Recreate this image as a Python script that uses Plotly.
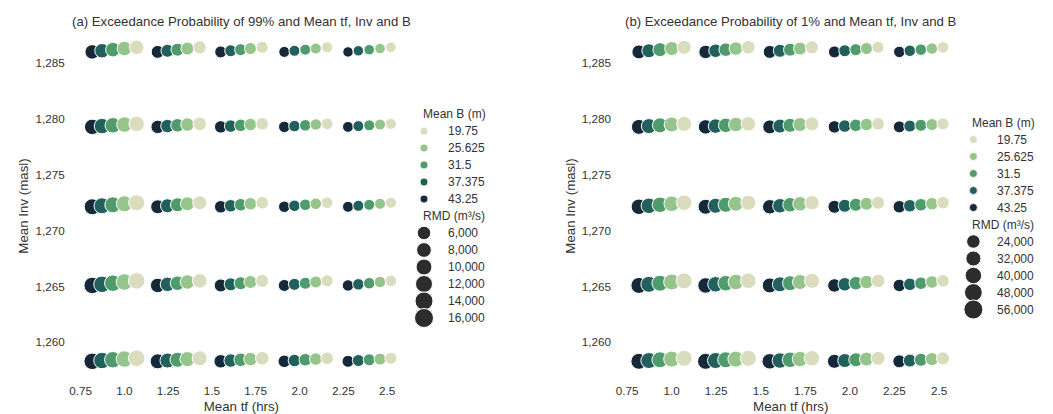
import plotly.graph_objects as go

# Mean breach width classes (m), in drawing order: dark (wide) to light (narrow)
B_LEVELS = [43.25, 37.375, 31.5, 25.625, 19.75]
B_COLORS = ["#15293b", "#22615b", "#4f9b6c", "#95c58a", "#d9dcbd"]

# Mean time to failure (hrs): one row per tf class, one column per B class
TF = [
    [0.816, 0.872, 0.934, 1.000, 1.070],
    [1.190, 1.246, 1.303, 1.360, 1.430],
    [1.550, 1.607, 1.664, 1.720, 1.787],
    [1.913, 1.971, 2.033, 2.093, 2.158],
    [2.277, 2.336, 2.398, 2.460, 2.522],
]

# Mean invert level (masl): one row per Inv class (top to bottom), one column per B class
INV = [
    [1285.99, 1286.09, 1286.19, 1286.29, 1286.40],
    [1279.28, 1279.35, 1279.42, 1279.49, 1279.55],
    [1272.13, 1272.22, 1272.31, 1272.40, 1272.49],
    [1265.09, 1265.19, 1265.29, 1265.40, 1265.50],
    [1258.30, 1258.37, 1258.44, 1258.50, 1258.57],
]

# RMD (m3/s): rows = Inv classes (top to bottom), columns = tf classes
RMD_P99 = [
    [7580, 5240, 3870, 2590, 1960],
    [9260, 6010, 4530, 3210, 2560],
    [10120, 6780, 4560, 3190, 2580],
    [11030, 7560, 5270, 3850, 3210],
    [11050, 8400, 5990, 4540, 3860],
]
RMD_P01 = [
    [26450, 24010, 21640, 17160, 15040],
    [31660, 29020, 26470, 19340, 17150],
    [34370, 31640, 29000, 21620, 19360],
    [37190, 34390, 31660, 23990, 19330],
    [37220, 37180, 34370, 26480, 21610],
]

# Values shown in the size keys
RMD_KEY_P99 = [6000, 8000, 10000, 12000, 14000, 16000]
RMD_KEY_P01 = [24000, 32000, 40000, 48000, 56000]

X_TICKS = [0.75, 1.0, 1.25, 1.5, 1.75, 2.0, 2.25, 2.5]
X_TICK_TEXT = ["0.75", "1.0", "1.25", "1.5", "1.75", "2.0", "2.25", "2.5"]
Y_TICKS = [1260, 1265, 1270, 1275, 1280, 1285]

TITLES = [
    "(a) Exceedance Probability of 99% and Mean tf, Inv and B",
    "(b) Exceedance Probability of 1% and Mean tf, Inv and B",
]

FONT = "Liberation Sans, Arial, sans-serif"
TEXT = "#333333"
W, H = 1053, 414


def size_scale(lo, hi, d_lo=13.5, d_hi=19.0):
    """Area-linear size norm: key value lo -> d_lo px, hi -> d_hi px."""
    def f(v):
        area = d_lo ** 2 + (v - lo) / (hi - lo) * (d_hi ** 2 - d_lo ** 2)
        return max(area, 1.0) ** 0.5
    return f


panels = [
    dict(rmd=RMD_P99, keys=RMD_KEY_P99, xa="x", ya="y",
         dom=[70 / W, 405 / W], key_x=418),
    dict(rmd=RMD_P01, keys=RMD_KEY_P01, xa="x2", ya="y2",
         dom=[619 / W, 960 / W], key_x=970),
]

fig = go.Figure()
annotations = []

for p in panels:
    scale = size_scale(p["keys"][0], p["keys"][-1])
    for j, (b, col) in enumerate(zip(B_LEVELS, B_COLORS)):
        xs, ys, ss, rs = [], [], [], []
        for r in range(len(INV)):
            for g in range(len(TF)):
                xs.append(TF[g][j])
                ys.append(INV[r][j])
                rs.append(p["rmd"][r][g])
                ss.append(scale(p["rmd"][r][g]))
        fig.add_trace(go.Scatter(
            x=xs, y=ys, mode="markers", xaxis=p["xa"], yaxis=p["ya"],
            marker=dict(size=ss, color=col, opacity=1,
                        line=dict(color="white", width=1)),
            customdata=rs, name=str(b), showlegend=False,
            hovertemplate="tf=%{x}<br>Inv=%{y}<br>RMD=%{customdata:,}<extra>B=" + str(b) + "</extra>",
        ))

    # Key: hue entries then size entries, stacked and centred on the axes
    step = 17.0
    rows = 2 + len(B_LEVELS) + len(p["keys"])
    y0 = 216 - (rows - 1) / 2 * step
    kx = p["key_x"]
    mx, tx = kx + 3, kx + 25
    annotations.append(dict(xref="x3", yref="y3", x=kx, y=y0, text="Mean B (m)",
                            xanchor="left", yanchor="middle", showarrow=False,
                            font=dict(size=12, color=TEXT, family=FONT)))
    hue_order = list(reversed(range(len(B_LEVELS))))
    hy = [y0 + step * (i + 1) for i in range(len(B_LEVELS))]
    fig.add_trace(go.Scatter(
        x=[mx] * len(hy), y=hy, mode="markers", xaxis="x3", yaxis="y3",
        marker=dict(size=8, color=[B_COLORS[k] for k in hue_order], opacity=1,
                    line=dict(color="white", width=0.8)),
        showlegend=False, hoverinfo="skip"))
    for i, k in enumerate(hue_order):
        annotations.append(dict(xref="x3", yref="y3", x=tx, y=hy[i],
                                text=f"{B_LEVELS[k]:g}", xanchor="left", yanchor="middle",
                                showarrow=False, font=dict(size=12, color=TEXT, family=FONT)))
    ty = y0 + step * (len(B_LEVELS) + 1)
    annotations.append(dict(xref="x3", yref="y3", x=kx, y=ty, text="RMD (m³/s)",
                            xanchor="left", yanchor="middle", showarrow=False,
                            font=dict(size=12, color=TEXT, family=FONT)))
    sy = [ty + step * (i + 1) for i in range(len(p["keys"]))]
    fig.add_trace(go.Scatter(
        x=[mx] * len(sy), y=sy, mode="markers", xaxis="x3", yaxis="y3",
        marker=dict(size=[scale(v) for v in p["keys"]], color="#2c2c2c", opacity=1,
                    line=dict(color="white", width=1)),
        showlegend=False, hoverinfo="skip"))
    for v, yy in zip(p["keys"], sy):
        annotations.append(dict(xref="x3", yref="y3", x=tx, y=yy, text=f"{v:,}",
                                xanchor="left", yanchor="middle", showarrow=False,
                                font=dict(size=12, color=TEXT, family=FONT)))

for i, t in enumerate(TITLES):
    annotations.append(dict(xref="x domain" if i == 0 else "x2 domain", yref="paper",
                            x=0.5, y=1 - 21 / H, text=t, xanchor="center", yanchor="middle",
                            showarrow=False, font=dict(size=13.2, color=TEXT, family=FONT)))

ydom = [(H - 382) / H, (H - 30) / H]
common_x = dict(range=[0.716, 2.62], tickvals=X_TICKS, ticktext=X_TICK_TEXT,
                showgrid=False, zeroline=False, showline=False, ticks="",
                tickfont=dict(size=11.7, color=TEXT, family=FONT), ticklabelstandoff=0,
                title=dict(text="Mean tf (hrs)", standoff=5,
                           font=dict(size=13.3, color=TEXT, family=FONT)))
common_y = dict(range=[1256.45, 1287.95], tickvals=Y_TICKS, tickformat=",",
                showgrid=False, zeroline=False, showline=False, ticks="",
                tickfont=dict(size=11.7, color=TEXT, family=FONT), ticklabelstandoff=9,
                title=dict(text="Mean Inv (masl)", standoff=3,
                           font=dict(size=13.3, color=TEXT, family=FONT)))

fig.update_layout(
    width=W, height=H, margin=dict(l=0, r=0, t=0, b=0),
    paper_bgcolor="white", plot_bgcolor="rgba(0,0,0,0)",
    font=dict(family=FONT, color=TEXT),
    xaxis=dict(domain=panels[0]["dom"], anchor="y", **common_x),
    yaxis=dict(domain=ydom, anchor="x", **common_y),
    xaxis2=dict(domain=panels[1]["dom"], anchor="y2", **common_x),
    yaxis2=dict(domain=ydom, anchor="x2", **common_y),
    xaxis3=dict(domain=[0, 1], range=[0, W], anchor="y3", visible=False, fixedrange=True),
    yaxis3=dict(domain=[0, 1], range=[H, 0], anchor="x3", visible=False, fixedrange=True),
    annotations=annotations,
    showlegend=False,
)

fig.write_html("out.html")
